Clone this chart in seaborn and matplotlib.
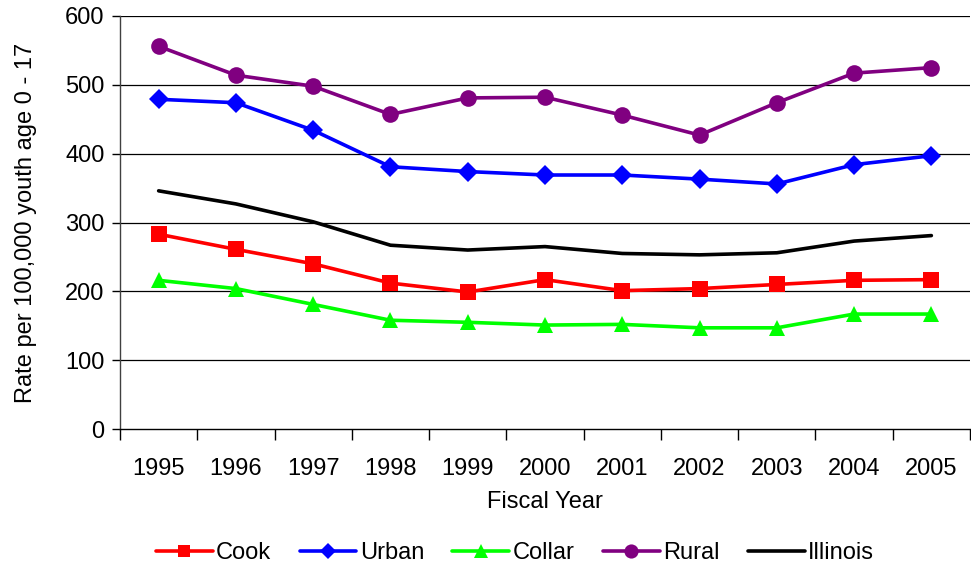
import matplotlib
matplotlib.use("Agg")
import matplotlib.pyplot as plt
import seaborn as sns
import pandas as pd
import numpy as np

years = ["1995", "1996", "1997", "1998", "1999", "2000", "2001", "2002", "2003", "2004", "2005"]
cook = [283, 261, 240, 212, 199, 217, 201, 204, 210, 216, 217]
urban = [479, 474, 434, 381, 374, 369, 369, 363, 356, 384, 397]
collar = [216, 204, 181, 158, 155, 151, 152, 147, 147, 167, 167]
rural = [556, 514, 498, 457, 481, 482, 456, 427, 474, 517, 525]
illinois = [346, 327, 301, 267, 260, 265, 255, 253, 256, 273, 281]

series = [
    ("Cook", cook, "#FF0000", "s", 11),
    ("Urban", urban, "#0000FF", "D", 10),
    ("Collar", collar, "#00FF00", "^", 12),
    ("Rural", rural, "#800080", "o", 12),
    ("Illinois", illinois, "#000000", None, 0),
]

sns.set_theme(style="white")
plt.rcParams["font.family"] = ["Liberation Sans", "DejaVu Sans"]
plt.rcParams["text.color"] = "black"
plt.rcParams["axes.labelcolor"] = "black"
plt.rcParams["xtick.color"] = "black"
plt.rcParams["ytick.color"] = "black"

fig = plt.figure(figsize=(9.71, 5.67), dpi=100)
ax = fig.add_axes([120 / 971, 1 - 429 / 567, 850 / 971, 413 / 567])

x = np.arange(len(years))
for name, vals, color, marker, ms in series:
    df = pd.DataFrame({"x": x, "y": vals})
    sns.lineplot(data=df, x="x", y="y", ax=ax, color=color, marker=marker,
                 markersize=ms, markeredgewidth=0, linewidth=2.6, label=name,
                 legend=False)

ax.set_xlim(-0.5, len(years) - 0.5)
ax.set_ylim(0, 600)
ax.set_yticks(range(0, 601, 100))
for v in range(100, 601, 100):
    ax.axhline(v, color="black", linewidth=0.9, zorder=0)

ax.set_xticks(np.arange(-0.5, len(years), 1.0))
ax.set_xticklabels([])
ax.set_xticks(x, minor=True)
ax.set_xticklabels(years, minor=True)
ax.tick_params(axis="x", which="major", direction="out", length=8, width=1, color="black", bottom=True)
ax.tick_params(axis="x", which="minor", length=0, pad=21, labelsize=17)
ax.tick_params(axis="y", direction="out", length=6, width=1, color="black", left=True, labelsize=17, pad=5)

for s in ["top", "right"]:
    ax.spines[s].set_visible(False)
ax.spines["left"].set_color("#404040")
ax.spines["bottom"].set_color("black")
ax.spines["left"].set_linewidth(1)
ax.spines["bottom"].set_linewidth(1)

ax.set_xlabel("Fiscal Year", fontsize=17, labelpad=8)
ax.set_ylabel("Rate per 100,000 youth age 0 - 17", fontsize=17, labelpad=20)

handles, labels = ax.get_legend_handles_labels()
fig.legend(handles, labels, loc="center", bbox_to_anchor=(515 / 971, 1 - 553 / 567),
           ncol=5, frameon=False, fontsize=17, handlelength=2.4, handletextpad=0.15,
           columnspacing=1.2, markerscale=0.85)

fig.savefig("out.png", dpi=100)
